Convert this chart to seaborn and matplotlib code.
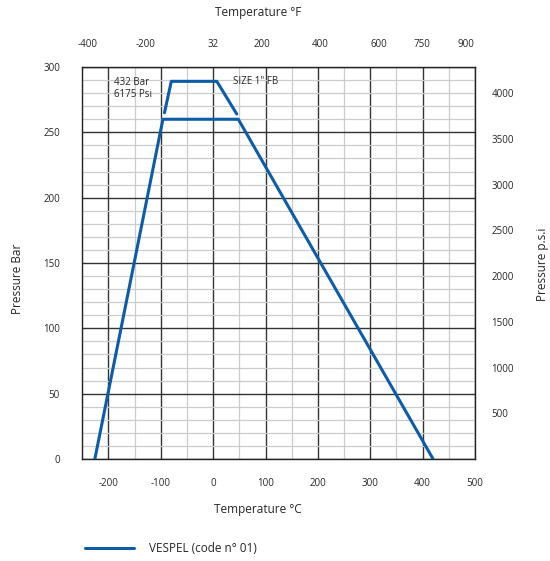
import numpy as np
import pandas as pd
import seaborn as sns
import matplotlib.pyplot as plt
from matplotlib.lines import Line2D

# VESPEL (code n° 01) pressure / temperature rating
temp_c_main = [-226, -96, 48, 420]
bar_main = [0, 260, 260, 0]
temp_c_size1 = [-93, -80, 7, 45]
bar_size1 = [265, 289, 289, 264]

c_ticks = [-200, -100, 0, 100, 200, 300, 400, 500]
bar_ticks = [0, 50, 100, 150, 200, 250, 300]
f_ticks = [-400, -200, 32, 200, 400, 600, 750, 900]
psi_ticks = [500, 1000, 1500, 2000, 2500, 3000, 3500, 4000]
psi_per_bar = 14.29

line_col = "#0d5ca8"

sns.set_style("white")
plt.rcParams['font.family'] = ['Open Sans', 'DejaVu Sans']
plt.rcParams['axes.unicode_minus'] = False

fig = plt.figure(figsize=(5.5, 5.61), dpi=100)
ax = fig.add_axes([0.1496, 0.1818, 0.714, 0.6988])

main = pd.DataFrame({"t": temp_c_main, "p": bar_main})
size1 = pd.DataFrame({"t": temp_c_size1, "p": bar_size1})
sns.lineplot(data=main, x="t", y="p", sort=False, color=line_col, lw=2.2, ax=ax, zorder=3)
sns.lineplot(data=size1, x="t", y="p", sort=False, color=line_col, lw=2.2, ax=ax, zorder=3)

ax.set_xlim(-250, 500)
ax.set_ylim(0, 300)
ax.set_xticks(c_ticks)
ax.set_xticks(np.arange(-250, 501, 50), minor=True)
ax.set_yticks(bar_ticks)
ax.set_yticks(np.arange(0, 301, 10), minor=True)
ax.grid(which="minor", color="#cccccc", lw=0.9)
ax.grid(which="major", color="#333333", lw=1.0)
ax.set_axisbelow(True)
for s in ax.spines.values():
    s.set_color("#222222")
    s.set_linewidth(1.0)
ax.tick_params(which="both", length=0)
ax.tick_params(axis="x", pad=14, labelsize=7)
ax.tick_params(axis="y", pad=16, labelsize=7)
ax.set_xlabel("")
ax.set_ylabel("")

top = ax.secondary_xaxis("top", functions=(lambda c: c * 9 / 5 + 32, lambda f: (f - 32) * 5 / 9))
top.set_xticks(f_ticks)
top.tick_params(length=0, pad=12, labelsize=7)
top.spines["top"].set_visible(False)

right = ax.secondary_yaxis("right", functions=(lambda b: b * psi_per_bar, lambda p: p / psi_per_bar))
right.set_yticks(psi_ticks)
right.tick_params(length=0, pad=12, labelsize=7)
right.spines["right"].set_visible(False)

ax.text(-189, 292, "432 Bar\n6175 Psi", fontsize=7, va="top", ha="left", linespacing=1.1)
ax.text(37, 289, 'SIZE 1" FB', fontsize=7, va="center", ha="left")

fig.text(0.469, 0.977, "Temperature °F", fontsize=8.5, ha="center", va="center")
fig.text(0.469, 0.091, "Temperature °C", fontsize=8.5, ha="center", va="center")
fig.text(0.031, 0.503, "Pressure Bar", fontsize=8.5, rotation=90, ha="center", va="center")
fig.text(0.987, 0.529, "Pressure p.s.i", fontsize=8.5, rotation=90, ha="center", va="center")

handle = Line2D([], [], color=line_col, lw=2.2)
fig.legend([handle], ["VESPEL (code n° 01)"], loc="center left", bbox_to_anchor=(0.135, 0.022),
           frameon=False, fontsize=8.5, handlelength=4.2, handletextpad=1.2)

fig.savefig("out.png", dpi=100)
